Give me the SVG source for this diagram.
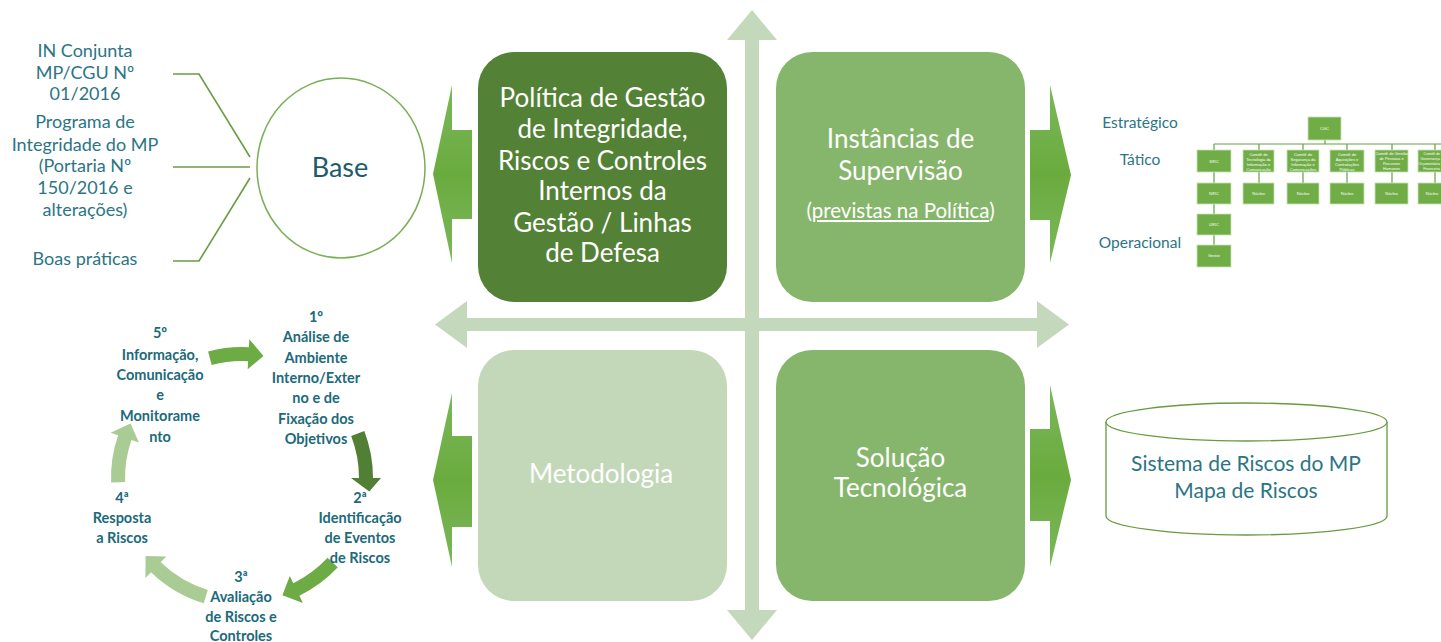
<svg xmlns="http://www.w3.org/2000/svg" width="1441" height="642" viewBox="0 0 1441 642">
<defs>
<linearGradient id="sideGrad" x1="0" y1="0" x2="0" y2="1">
<stop offset="0" stop-color="#7bb85a"/>
<stop offset="0.5" stop-color="#6aab3e"/>
<stop offset="1" stop-color="#7bb85a"/>
</linearGradient>
<style>
.box-text{font-family:Lato,"Liberation Sans",sans-serif;fill:#ffffff;text-anchor:middle}
.big{font-size:26px}
.teal{font-family:Lato,"Liberation Sans",sans-serif;fill:#2b7585;text-anchor:middle}
.src{font-size:18px}
.cyc{font-family:Lato,"Liberation Sans",sans-serif;font-weight:bold;font-size:14.5px;fill:#1c6a7a;text-anchor:middle}
.lvl{font-family:Lato,"Liberation Sans",sans-serif;font-size:15.5px;fill:#2b7585;text-anchor:middle}
.org{fill:#70ad47;stroke:#c5e0b4;stroke-width:0.8}
.orgt{font-family:"Liberation Sans",sans-serif;font-size:4px;fill:#ffffff;text-anchor:middle}
.orge{font-family:"Liberation Sans",sans-serif;font-size:3.6px;fill:#ffffff;text-anchor:end}
.orgl{stroke:#6a9d4a;stroke-width:1.2;fill:none}
.brk{stroke:#6a9c45;stroke-width:1.6;fill:none}
.side{fill:url(#sideGrad)}
.axis{fill:#c4d9bb}
</style>
</defs>
<rect width="1441" height="642" fill="#ffffff"/>

<g id="axes" class="connectors">
<path class="axis" d="M435 324.5 L467 301 L467 318 L1037 318 L1037 301 L1069 324.5 L1037 348 L1037 331 L467 331 L467 348 Z"/>
<path class="axis" d="M752 10 L777 40 L759 40 L759 610 L777 610 L752 640 L727 610 L745 610 L745 40 L727 40 Z"/>
</g>

<g id="connectors">
<path class="brk" d="M173 74 H199 L250 157"/>
<path class="brk" d="M173 167 H250"/>
<path class="brk" d="M173 261 H199 L250 178"/>
<polygon class="side" points="433,174 452,85 452,130 472,130 472,219 452,219 452,263"/>
<polygon class="side" points="433,480 452,393 452,436 472,436 472,527 452,527 452,567"/>
<polygon class="side" points="1030,130 1050,130 1050,85 1071,175 1050,263 1050,220 1030,220"/>
<polygon class="side" points="1030,429 1050,429 1050,385 1071,480 1050,567 1050,521 1030,521"/>
<path fill="#6dab45" d="M208.1 351.5 A131 131 0 0 1 248.9 347.2 L249.3 339.2 L263.5 355.9 L247.7 369.2 L248.1 361.2 A117 117 0 0 0 211.7 365 Z"/>
<path fill="#517f33" d="M364.3 431 A131 131 0 0 1 373 478 L381 478 L369.3 491.4 L351 478 L359 478 A117 117 0 0 0 351.2 436.1 Z"/>
<path fill="#6dab45" d="M337.8 567.3 A131 131 0 0 1 299.4 595.7 L302.9 602.9 L282.4 595.2 L289.8 576 L293.3 583.2 A117 117 0 0 0 327.6 557.8 Z"/>
<path fill="#a9cb94" d="M203.7 603.3 A131 131 0 0 1 151 572.2 L145.4 578 L145.6 556 L166.3 556.4 L160.7 562.2 A117 117 0 0 0 207.8 589.9 Z"/>
<path fill="#a9cb94" d="M111.1 482.6 A131 131 0 0 1 118.1 435.3 L110.6 432.7 L130.5 423.6 L138.9 442.5 L131.4 439.9 A117 117 0 0 0 125.1 482.1 Z"/>
<g id="org-lines">
<path class="orgl" d="M1325 140 V144 M1214 144 H1441 M1214 144 V150 M1259 144 V150 M1303 144 V150 M1347 144 V150 M1392 144 V150 M1435 144 V150"/>
<path class="orgl" d="M1214 172 V183 M1259 172 V183 M1303 172 V183 M1347 172 V183 M1392 172 V183 M1435 172 V183 M1214 204 V214 M1214 235 V245"/>
</g>
</g>

<g id="sources">
<text class="teal src" x="85" y="57">IN Conjunta</text>
<text class="teal src" x="85" y="79">MP/CGU Nº</text>
<text class="teal src" x="85" y="100">01/2016</text>
<text class="teal src" x="85" y="128">Programa de</text>
<text class="teal src" x="85" y="151">Integridade do MP</text>
<text class="teal src" x="85" y="172">(Portaria Nº</text>
<text class="teal src" x="85" y="194">150/2016 e</text>
<text class="teal src" x="85" y="216">alterações)</text>
<text class="teal src" x="85" y="265">Boas práticas</text>
</g>

<g id="base">
<ellipse cx="341" cy="168" rx="84" ry="90" fill="#ffffff" stroke="#7aae57" stroke-width="1.5"/>
<text x="340" y="177" font-family="Lato,'Liberation Sans',sans-serif" font-size="27" fill="#1d5c69" text-anchor="middle">Base</text>
</g>

<g id="politica">
<rect x="478" y="52" width="249" height="250" rx="36" fill="#538135"/>
<text class="box-text big" x="602.5" y="107">Política de Gestão</text>
<text class="box-text big" x="602.5" y="138">de Integridade,</text>
<text class="box-text big" x="602.5" y="170">Riscos e Controles</text>
<text class="box-text big" x="602.5" y="200">Internos da</text>
<text class="box-text big" x="602.5" y="232">Gestão / Linhas</text>
<text class="box-text big" x="602.5" y="262">de Defesa</text>
</g>

<g id="instancias">
<rect x="776" y="52" width="249" height="250" rx="36" fill="#86b66c"/>
<text class="box-text big" x="900.5" y="148">Instâncias de</text>
<text class="box-text big" x="900.5" y="180">Supervisão</text>
<text class="box-text" x="900.5" y="218" font-size="20.5">(<tspan text-decoration="underline">previstas na Política</tspan>)</text>
</g>

<g id="metodologia">
<rect x="478" y="350" width="249" height="251" rx="36" fill="#c3d8b9"/>
<text class="box-text big" x="601" y="483">Metodologia</text>
</g>

<g id="solucao">
<rect x="776" y="350" width="249" height="251" rx="36" fill="#86b66c"/>
<text class="box-text big" x="900.5" y="467">Solução</text>
<text class="box-text big" x="900.5" y="497">Tecnológica</text>
</g>

<g id="cycle">
<text class="cyc" x="316" y="322">1º</text>
<text class="cyc" x="316" y="342">Análise de</text>
<text class="cyc" x="316" y="363">Ambiente</text>
<text class="cyc" x="316" y="383">Interno/Exter</text>
<text class="cyc" x="316" y="403">no e de</text>
<text class="cyc" x="316" y="424">Fixação dos</text>
<text class="cyc" x="316" y="444">Objetivos</text>
<text class="cyc" x="360" y="503">2ª</text>
<text class="cyc" x="360" y="523">Identificação</text>
<text class="cyc" x="360" y="543">de Eventos</text>
<text class="cyc" x="360" y="563">de Riscos</text>
<text class="cyc" x="241" y="582">3ª</text>
<text class="cyc" x="241" y="602">Avaliação</text>
<text class="cyc" x="241" y="622">de Riscos e</text>
<text class="cyc" x="241" y="641">Controles</text>
<text class="cyc" x="122" y="503">4ª</text>
<text class="cyc" x="122" y="523">Resposta</text>
<text class="cyc" x="122" y="543">a Riscos</text>
<text class="cyc" x="160" y="338">5º</text>
<text class="cyc" x="160" y="360">Informação,</text>
<text class="cyc" x="160" y="380">Comunicação</text>
<text class="cyc" x="160" y="400">e</text>
<text class="cyc" x="160" y="421">Monitorame</text>
<text class="cyc" x="160" y="442">nto</text>
</g>

<g id="org">
<text class="lvl" x="1140" y="128">Estratégico</text>
<text class="lvl" x="1140" y="165">Tático</text>
<text class="lvl" x="1140" y="248">Operacional</text>
<g id="org-cgc"><rect class="org" x="1308" y="117" width="33" height="23"/><text class="orgt" x="1324.5" y="130">CGC</text></g>
<g id="org-sirc"><rect class="org" x="1197" y="150" width="34" height="22"/><text class="orgt" x="1214" y="163">SIRC</text></g>
<g id="org-cti"><rect class="org" x="1243" y="150" width="31" height="22"/><text class="orgt" x="1258.5" y="156">Comitê de</text><text class="orgt" x="1258.5" y="161">Tecnologia da</text><text class="orgt" x="1258.5" y="166">Informação e</text><text class="orgt" x="1258.5" y="171">Comunicação</text></g>
<g id="org-csi"><rect class="org" x="1287" y="150" width="32" height="22"/><text class="orgt" x="1303" y="156">Comitê de</text><text class="orgt" x="1303" y="161">Segurança da</text><text class="orgt" x="1303" y="166">Informação e</text><text class="orgt" x="1303" y="171">Comunicações</text></g>
<g id="org-cac"><rect class="org" x="1330" y="150" width="34" height="22"/><text class="orgt" x="1347" y="156">Comitê de</text><text class="orgt" x="1347" y="161">Aquisições e</text><text class="orgt" x="1347" y="166">Contratações</text><text class="orgt" x="1347" y="171">Públicas</text></g>
<g id="org-crh"><rect class="org" x="1375" y="150" width="33" height="22"/><text class="orgt" x="1391.5" y="155">Comitê de Gestão</text><text class="orgt" x="1391.5" y="160">de Pessoas e</text><text class="orgt" x="1391.5" y="165">Recursos</text><text class="orgt" x="1391.5" y="170">Humanos</text></g>
<g id="org-cgo"><rect class="org" x="1418" y="150" width="34" height="22"/><text class="orge" x="1440" y="155">Comitê de</text><text class="orge" x="1440" y="160">Governança</text><text class="orge" x="1440" y="165">Orçamentária</text><text class="orge" x="1440" y="170">Financeira</text></g>
<g id="org-nirc"><rect class="org" x="1197" y="183" width="34" height="21"/><text class="orgt" x="1214" y="195">NIRC</text></g>
<g id="org-n2"><rect class="org" x="1243" y="183" width="31" height="21"/><text class="orgt" x="1258.5" y="195">Núcleo</text></g>
<g id="org-n3"><rect class="org" x="1287" y="183" width="32" height="21"/><text class="orgt" x="1303" y="195">Núcleo</text></g>
<g id="org-n4"><rect class="org" x="1330" y="183" width="34" height="21"/><text class="orgt" x="1347" y="195">Núcleo</text></g>
<g id="org-n5"><rect class="org" x="1375" y="183" width="33" height="21"/><text class="orgt" x="1391.5" y="195">Núcleo</text></g>
<g id="org-n6"><rect class="org" x="1418" y="183" width="34" height="21"/><text class="orgt" x="1432" y="195">Núcleo</text></g>
<g id="org-uirc"><rect class="org" x="1197" y="214" width="34" height="21"/><text class="orgt" x="1214" y="226">UIRC</text></g>
<g id="org-gestor"><rect class="org" x="1197" y="245" width="34" height="22"/><text class="orgt" x="1214" y="257">Gestor</text></g>
</g>

<g id="sistema">
<path d="M1106 422 V516 A140.5 19 0 0 0 1387 516 V422" fill="#ffffff" stroke="#6a9a40" stroke-width="1.3"/>
<ellipse cx="1246.5" cy="422" rx="140.5" ry="19" fill="#ffffff" stroke="#6a9a40" stroke-width="1.3"/>
<text class="teal" x="1246" y="471" font-size="21">Sistema de Riscos do MP</text>
<text class="teal" x="1246" y="498" font-size="21">Mapa de Riscos</text>
</g>
</svg>
